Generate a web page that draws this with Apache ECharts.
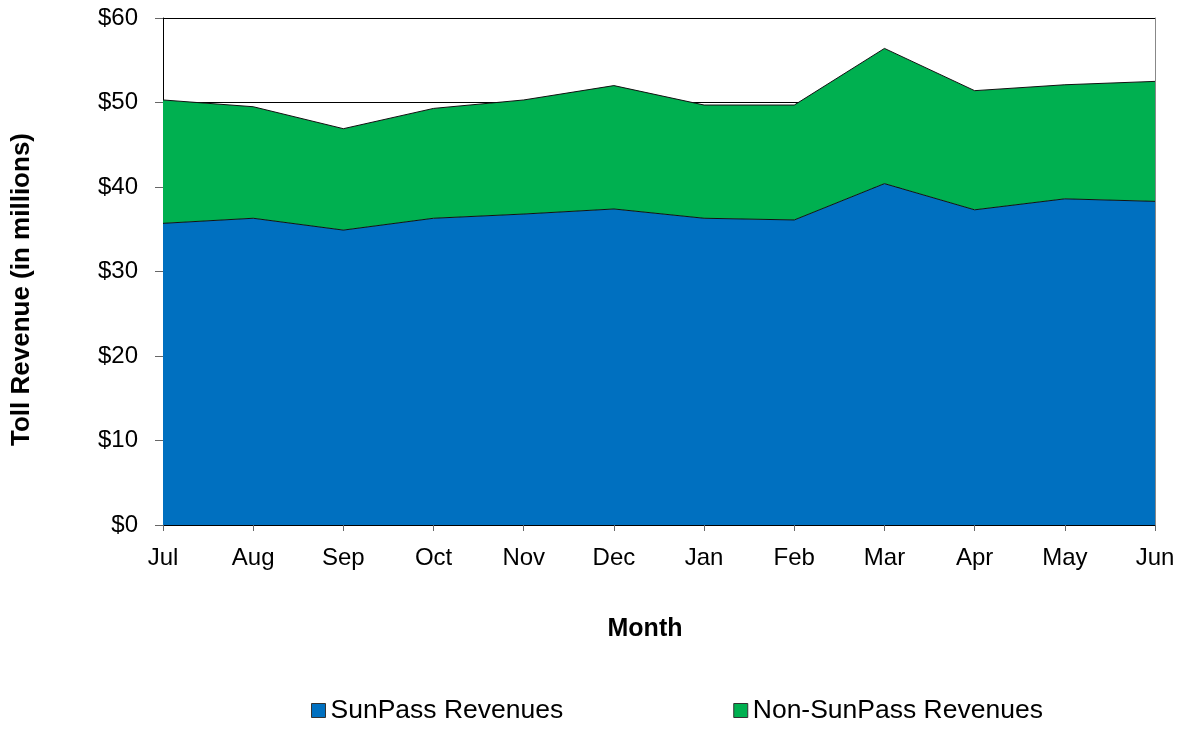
<!DOCTYPE html>
<html>
<head>
<meta charset="utf-8">
<script src="https://cdn.jsdelivr.net/npm/echarts@6/dist/echarts.min.js"></script>
<style>
  html, body { margin: 0; padding: 0; background: #fff; }
  #chart { width: 1185px; height: 730px; }
</style>
</head>
<body>
<div id="chart"></div>
<script>
var months = ['Jul', 'Aug', 'Sep', 'Oct', 'Nov', 'Dec', 'Jan', 'Feb', 'Mar', 'Apr', 'May', 'Jun']
// revenue in $ millions
var sunPass = [35.7, 36.3, 34.9, 36.3, 36.8, 37.4, 36.3, 36.1, 40.4, 37.3, 38.6, 38.3]
var nonSunPass = [14.6, 13.2, 12.0, 13.0, 13.5, 14.6, 13.4, 13.6, 16.0, 14.1, 13.5, 14.2]

var font = 'Liberation Sans, Arial, sans-serif'

var myChart = echarts.init(document.getElementById('chart'))
var option = {
  animation: false,
  backgroundColor: '#fff',
  grid: {
    left: 163,
    right: 30,
    top: 18,
    bottom: 205
  },
  legend: {
    left: 311,
    top: 697,
    padding: 0,
    itemWidth: 14,
    itemHeight: 14,
    itemGap: 170,
    icon: 'rect',
    textStyle: { fontFamily: font, fontSize: 26.5, color: '#000' },
    data: [
      { name: 'SunPass Revenues', itemStyle: { borderColor: '#333', borderWidth: 1 } },
      { name: 'Non-SunPass Revenues', itemStyle: { borderColor: '#333', borderWidth: 1 } }
    ]
  },
  xAxis: {
    type: 'category',
    data: months,
    boundaryGap: false,
    name: 'Month',
    nameLocation: 'middle',
    nameGap: 92,
    nameTextStyle: { fontFamily: font, fontSize: 25, fontWeight: 'bold', color: '#000', padding: [0, 28, 0, 0] },
    axisLine: { show: true, lineStyle: { color: '#000', width: 1 } },
    axisTick: { show: true, alignWithLabel: true, length: 6, lineStyle: { color: '#666' } },
    axisLabel: { fontFamily: font, fontSize: 24, color: '#000', margin: 21 }
  },
  yAxis: [{
    type: 'value',
    min: 0,
    max: 60,
    interval: 10,
    name: 'Toll Revenue (in millions)',
    nameLocation: 'middle',
    nameGap: 128,
    nameTextStyle: { fontFamily: font, fontSize: 26, fontWeight: 'bold', color: '#000', padding: [0, 36, 0, 0] },
    axisLine: { show: true, lineStyle: { color: '#000', width: 1 } },
    axisTick: { show: true, length: 8, lineStyle: { color: '#666' } },
    axisLabel: { fontFamily: font, fontSize: 24, color: '#000', margin: 25, formatter: '${value}' },
    splitLine: { show: true, lineStyle: { color: '#000', width: 1 } }
  }, {
    type: 'value',
    min: 0,
    max: 60,
    interval: 10,
    position: 'right',
    axisLine: { show: true, lineStyle: { color: '#888', width: 1 } },
    axisTick: { show: false },
    axisLabel: { show: false },
    splitLine: { show: false }
  }],
  series: [{
    name: 'SunPass Revenues',
    type: 'line',
    stack: 'total',
    data: sunPass,
    symbol: 'none',
    color: '#0070C0',
    lineStyle: { color: '#111', width: 1 },
    areaStyle: { color: '#0070C0', opacity: 1 }
  }, {
    name: 'Non-SunPass Revenues',
    type: 'line',
    stack: 'total',
    data: nonSunPass,
    symbol: 'none',
    color: '#00B050',
    lineStyle: { color: '#111', width: 1 },
    areaStyle: { color: '#00B050', opacity: 1 }
  }]
}
myChart.setOption(option)
</script>
</body>
</html>
